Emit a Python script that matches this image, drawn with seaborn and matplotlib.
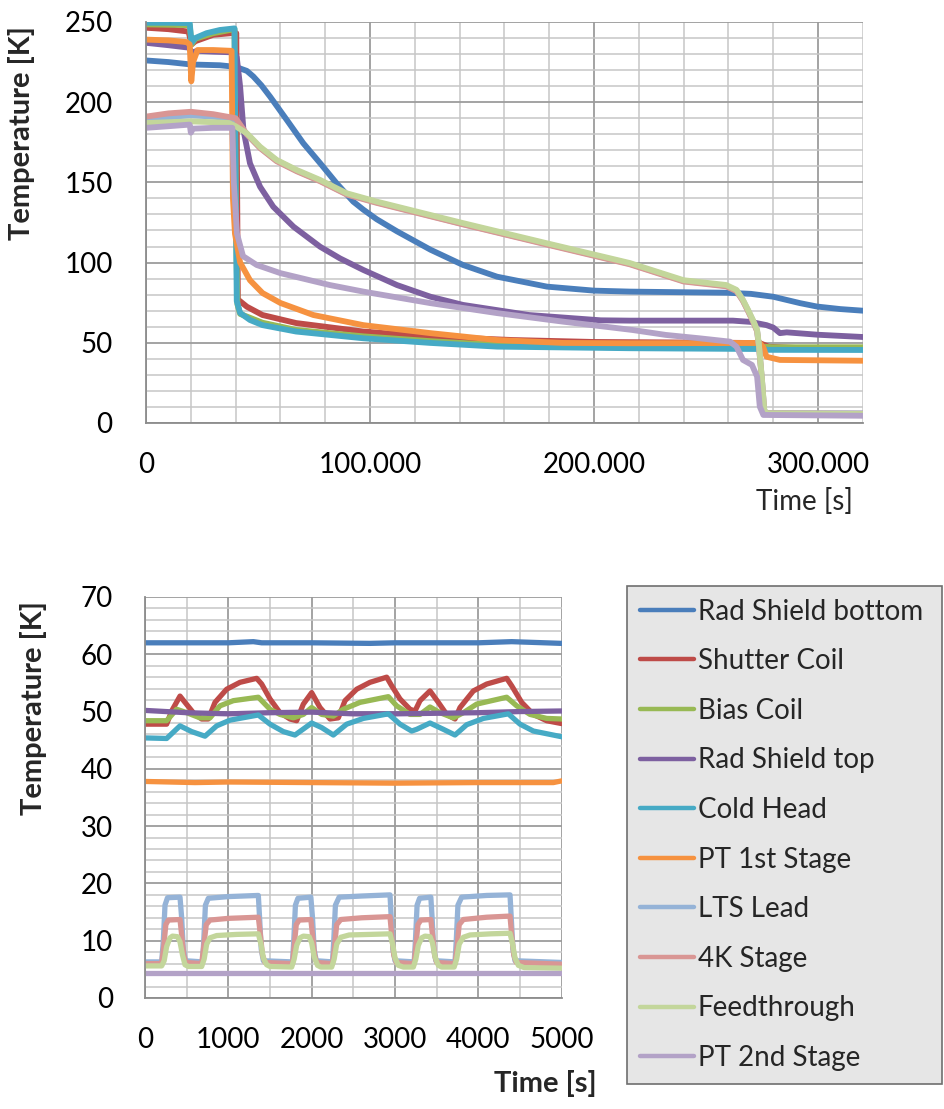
import pandas as pd
import matplotlib.pyplot as plt
import seaborn as sns
from matplotlib.lines import Line2D
from matplotlib.ticker import MultipleLocator, FuncFormatter

# sensor names and colours (Excel 2007 palette)
sensors = ['Rad Shield bottom', 'Shutter Coil', 'Bias Coil', 'Rad Shield top', 'Cold Head',
           'PT 1st Stage', 'LTS Lead', '4K Stage', 'Feedthrough', 'PT 2nd Stage']
colors = ['#4a7ebb', '#be4b48', '#98b954', '#7d60a0', '#46aac5',
          '#f69240', '#95b3d7', '#d99694', '#c3d69b', '#b3a2c7']

# ---- cool-down (top panel), (time s, temperature K)
rsb_cool = [(0, 226), (10000, 225), (20000, 223.5), (33000, 223), (40000, 222), (42000, 221),
            (45000, 219.5), (47900, 216), (51500, 210.5), (55400, 203.4), (62800, 189), (70200, 174.4),
            (77700, 162), (85100, 149.4), (92500, 138), (97000, 133), (103000, 127), (112000, 119.5),
            (127000, 108), (141500, 98.5), (156700, 91.2), (179000, 85), (200000, 82.5), (216000, 81.9),
            (240000, 81.5), (259000, 81.2), (270000, 80.5), (280000, 78.7), (292000, 74.7), (299500, 72.6),
            (310000, 71), (320000, 70)]
shutter_cool = [(0, 246.4), (10000, 245.5), (19000, 244), (20300, 236), (22000, 238), (30000, 242),
                (38000, 243), (40300, 243), (40600, 160), (41000, 77), (45000, 72.5), (52000, 67.3),
                (67000, 62.3), (97000, 57), (127000, 53.8), (164000, 51.7), (200000, 50.5), (260000, 50),
                (274000, 49.8), (278000, 47.5), (290000, 46.8), (320000, 46.8)]
bias_cool = [(0, 248.5), (19500, 248), (20300, 236), (22000, 239.5), (30000, 243), (39500, 245.5),
             (40200, 120), (40800, 74), (42000, 68), (52000, 62.5), (67000, 58), (97000, 54), (127000, 51),
             (156700, 48.6), (200000, 47.8), (260000, 47.6), (275000, 47.6), (280000, 47.2), (320000, 47.2)]
rst_cool = [(0, 237), (10000, 235.5), (19000, 234), (20500, 231), (23000, 232), (30000, 231.5),
            (39500, 231), (40500, 228), (42000, 209.7), (43500, 182.6), (46400, 161.9), (50900, 147.3),
            (56800, 134.8), (65800, 122.4), (77700, 109.9), (86600, 102.6), (97000, 95.4), (112000, 86),
            (127000, 78.7), (141500, 73.6), (171000, 67.3), (203000, 64), (216000, 63.8), (262000, 63.8),
            (270000, 63), (277000, 61), (280000, 59.5), (283000, 56), (286000, 56.5), (300000, 55),
            (320000, 53.6)]
cold_cool = [(0, 249.5), (10000, 249.5), (19500, 249.3), (20300, 237), (22000, 240), (27000, 243),
             (33000, 245), (39500, 246), (40000, 150), (40500, 76), (42000, 68.6), (46400, 64.2),
             (52000, 61), (67000, 57), (97000, 52.8), (127000, 49.9), (156700, 47.6), (216000, 46.6),
             (275000, 46.1), (278000, 45.6), (320000, 45.5)]
pt1_cool = [(0, 239), (10000, 238.5), (18000, 237.5), (19500, 236), (20200, 213), (21000, 225),
            (23000, 232.5), (30000, 232.5), (38200, 232), (38800, 140), (39700, 118), (42000, 100),
            (46400, 89), (52000, 81), (60000, 74.8), (74700, 67.3), (97000, 61), (127000, 56),
            (156700, 51.7), (186000, 49.9), (216000, 49.7), (274000, 49.9), (275600, 47), (277000, 41.3),
            (283000, 39.3), (320000, 38.8)]
lts_cool = [(0, 189), (20000, 192), (38000, 190), (40000, 189), (45000, 180), (50900, 171.6),
            (58300, 163.5), (67300, 157.2), (77700, 151), (89600, 142.7), (103000, 137.5), (141500, 124),
            (179000, 111.5), (216000, 99.2), (240000, 88.5), (259000, 85.5), (263600, 82.5), (266500, 76.3),
            (268800, 70), (271000, 63.5), (272800, 57.5), (273700, 47), (275000, 26.3), (276000, 7.8),
            (277000, 6.2), (320000, 6.0)]
k4_cool = [(0, 191), (10000, 193), (20000, 194), (30000, 192.5), (40000, 190), (45000, 180),
           (50900, 171.4), (58300, 163.2), (67300, 156.9), (77700, 150.7), (89600, 142.4), (103000, 137.2),
           (141500, 123.8), (179000, 111.2), (216000, 98.9), (240000, 88.2), (259000, 85.2), (263600, 82.2),
           (266500, 76), (268800, 69.6), (271000, 63.2), (272800, 57.2), (273700, 46.8), (275000, 26),
           (276000, 7.5), (277000, 6), (320000, 5.8)]
feed_cool = [(0, 187), (10000, 187.5), (20000, 188), (30000, 187.5), (37000, 187), (40000, 185),
             (45000, 180.6), (50900, 172.2), (58300, 164), (67300, 157.7), (77700, 151.5), (89600, 143.2),
             (103000, 138), (141500, 124.6), (179000, 112), (216000, 99.7), (240000, 89), (259000, 86),
             (263600, 83), (266500, 76.7), (268800, 70.4), (271000, 64), (272800, 58), (273700, 47.6),
             (275000, 26.8), (276000, 8.1), (277000, 6), (320000, 5.6)]
pt2_cool = [(0, 184), (10000, 185), (19500, 186), (20000, 181), (21000, 183.5), (30000, 184),
            (38500, 184), (39200, 150), (40600, 118), (43300, 104), (49400, 98.5), (60000, 93.4),
            (82000, 86), (97000, 81.9), (127000, 74.7), (156700, 68.5), (186000, 63.2), (217000, 58),
            (232000, 54.9), (247000, 52.8), (260700, 50.7), (263600, 47.6), (266500, 39.3), (270500, 36.2),
            (272800, 28.9), (274000, 10.2), (275600, 5), (320000, 4.5)]

# ---- cycling (bottom panel)
rsb_cyc = [(0, 62), (1000, 62), (1300, 62.2), (1400, 62), (2000, 62), (2700, 61.9), (3000, 62),
           (4000, 62), (4400, 62.2), (5000, 61.9)]
shutter_cyc = [(0, 47.8), (260, 47.8), (320, 50.1), (420, 52.7), (480, 51.6), (580, 49.8), (680, 48.7),
               (760, 48.7), (840, 51.6), (980, 53.9), (1140, 55.1), (1340, 55.8), (1400, 54.8), (1500, 52.2),
               (1620, 49.8), (1740, 48.7), (1820, 48.4), (1900, 51.3), (2000, 53.3), (2100, 50.7),
               (2220, 48.7), (2320, 48.9), (2400, 51.9), (2540, 53.9), (2700, 55.1), (2900, 56.0),
               (2960, 54.5), (3060, 52.2), (3180, 50.4), (3240, 50.1), (3300, 51.9), (3420, 53.6),
               (3520, 51.6), (3620, 49.5), (3720, 48.7), (3780, 50.7), (3940, 53.6), (4100, 54.8),
               (4340, 55.8), (4400, 54.5), (4520, 51.6), (4660, 49.5), (4820, 48.4), (5000, 47.9)]
bias_cyc = [(0, 48.4), (260, 48.4), (380, 50.4), (500, 49.8), (660, 48.9), (780, 48.9), (900, 51.0),
            (1060, 51.9), (1360, 52.5), (1500, 50.4), (1620, 49.5), (1780, 48.9), (1900, 49.5), (2000, 50.7),
            (2120, 49.5), (2260, 49.2), (2380, 50.4), (2580, 51.6), (2920, 52.6), (3020, 51.0), (3180, 49.5),
            (3300, 49.5), (3420, 50.8), (3540, 49.8), (3700, 48.9), (3820, 49.8), (3980, 51.3), (4340, 52.5),
            (4460, 51.0), (4620, 49.5), (4820, 48.8), (5000, 48.7)]
rst_cyc = [(0, 50.2), (500, 49.8), (1000, 49.6), (1500, 49.8), (2000, 49.9), (2500, 49.6), (3000, 49.6),
           (3500, 49.7), (4000, 49.8), (4500, 50.0), (5000, 50.1)]
cold_cyc = [(0, 45.4), (260, 45.3), (420, 47.5), (560, 46.5), (720, 45.7), (860, 47.5), (1020, 48.5),
            (1360, 49.4), (1500, 47.8), (1660, 46.5), (1800, 45.9), (2000, 48.0), (2120, 47.2), (2260, 45.9),
            (2420, 47.8), (2620, 48.8), (2920, 49.6), (3060, 47.8), (3200, 46.6), (3260, 46.9), (3420, 48.0),
            (3580, 46.9), (3720, 45.9), (3860, 47.7), (4060, 48.8), (4360, 49.6), (4500, 47.8), (4660, 46.6),
            (5000, 45.6)]
pt1_cyc = [(0, 37.8), (600, 37.6), (1000, 37.7), (2000, 37.6), (3000, 37.5), (4000, 37.6), (4900, 37.6),
           (5000, 37.9)]
lts_cyc = [(0, 6.3), (200, 6.3), (220, 10.0), (240, 16.2), (270, 17.5), (420, 17.6), (440, 14.0),
           (460, 8.5), (485, 6.5), (690, 6.3), (705, 10.0), (725, 16.2), (760, 17.4), (1000, 17.7),
           (1360, 17.9), (1375, 14.0), (1395, 8.5), (1420, 6.5), (1770, 6.3), (1785, 10.0), (1805, 16.2),
           (1835, 17.4), (1990, 17.6), (2010, 14.0), (2030, 8.5), (2055, 6.5), (2250, 6.3), (2265, 10.0),
           (2285, 16.2), (2330, 17.6), (2600, 17.8), (2940, 18.0), (2955, 14.0), (2975, 8.5), (3000, 6.5),
           (3230, 6.3), (3245, 10.0), (3265, 16.2), (3295, 17.4), (3430, 17.6), (3445, 14.0), (3465, 8.5),
           (3490, 6.5), (3720, 6.3), (3735, 10.0), (3755, 16.2), (3800, 17.6), (4100, 17.9), (4380, 18.0),
           (4395, 14.0), (4415, 8.5), (4440, 6.5), (5000, 6.2)]
k4_cyc = [(0, 6.0), (200, 6.0), (225, 9.0), (250, 12.8), (280, 13.6), (420, 13.7), (440, 11.0),
          (465, 7.5), (490, 6.2), (680, 6.0), (705, 9.0), (735, 12.8), (780, 13.6), (1000, 13.9),
          (1360, 14.1), (1385, 11.0), (1410, 7.5), (1440, 6.2), (1770, 6.0), (1790, 9.0), (1815, 12.8),
          (1850, 13.6), (1990, 13.7), (2010, 11.0), (2035, 7.5), (2060, 6.2), (2250, 6.0), (2275, 9.0),
          (2300, 12.8), (2350, 13.7), (2600, 14.0), (2940, 14.2), (2960, 11.0), (2985, 7.5), (3015, 6.2),
          (3230, 6.0), (3250, 9.0), (3275, 12.8), (3310, 13.6), (3430, 13.7), (3450, 11.0), (3475, 7.5),
          (3500, 6.2), (3720, 6.0), (3745, 9.0), (3770, 12.8), (3820, 13.7), (4100, 14.1), (4380, 14.3),
          (4400, 11.0), (4425, 7.5), (4455, 6.2), (5000, 5.9)]
feed_cyc = [(0, 5.6), (200, 5.6), (230, 6.5), (260, 9.0), (300, 10.5), (330, 10.8), (390, 10.7),
            (420, 9.8), (450, 7.5), (480, 5.8), (520, 5.5), (680, 5.5), (710, 6.8), (740, 9.4), (780, 10.5),
            (860, 10.9), (1100, 11.1), (1360, 11.2), (1390, 9.5), (1420, 7.0), (1460, 5.8), (1500, 5.5),
            (1760, 5.4), (1790, 6.8), (1820, 9.2), (1860, 10.5), (1900, 10.8), (1970, 10.7), (2000, 9.6),
            (2030, 7.2), (2070, 5.7), (2110, 5.4), (2240, 5.4), (2270, 6.8), (2300, 9.4), (2350, 10.6),
            (2450, 11.0), (2700, 11.1), (2940, 11.2), (2970, 9.5), (3000, 7.0), (3040, 5.7), (3100, 5.4),
            (3220, 5.4), (3250, 6.8), (3280, 9.2), (3320, 10.5), (3360, 10.8), (3420, 10.7), (3450, 9.6),
            (3480, 7.2), (3520, 5.7), (3560, 5.4), (3710, 5.4), (3740, 6.8), (3770, 9.4), (3820, 10.6),
            (3900, 11.0), (4150, 11.2), (4380, 11.3), (4410, 9.5), (4440, 7.0), (4480, 5.7), (4550, 5.3),
            (5000, 5.2)]
pt2_cyc = [(0, 4.3), (1000, 4.3), (2000, 4.3), (3000, 4.3), (4000, 4.3), (5000, 4.3)]

cool_series = [rsb_cool, shutter_cool, bias_cool, rst_cool, cold_cool,
               pt1_cool, lts_cool, k4_cool, feed_cool, pt2_cool]
cyc_series = [rsb_cyc, shutter_cyc, bias_cyc, rst_cyc, cold_cyc,
              pt1_cyc, lts_cyc, k4_cyc, feed_cyc, pt2_cyc]


def to_frame(series_list):
    frames = []
    for name, pts in zip(sensors, series_list):
        d = pd.DataFrame(pts, columns=['time', 'temp'])
        d['sensor'] = name
        frames.append(d)
    return pd.concat(frames, ignore_index=True)


cool_df = to_frame(cool_series)
cyc_df = to_frame(cyc_series)
palette = dict(zip(sensors, colors))

sns.set_style('white')
plt.rcParams['font.family'] = ['Lato', 'DejaVu Sans']

fig = plt.figure(figsize=(9.44, 11.09), dpi=100)
ax1 = fig.add_axes([0.1547, 0.6186, 0.7593, 0.3616])
ax2 = fig.add_axes([0.1536, 0.1001, 0.4414, 0.3616])

sns.lineplot(data=cool_df, x='time', y='temp', hue='sensor', hue_order=sensors, palette=palette,
             estimator=None, sort=False, linewidth=4.2, legend=False, ax=ax1)
sns.lineplot(data=cyc_df, x='time', y='temp', hue='sensor', hue_order=sensors, palette=palette,
             estimator=None, sort=False, linewidth=3.8, legend=False, ax=ax2)

dot_thousands = FuncFormatter(lambda v, p: f"{int(round(v)):,}".replace(',', '.'))


def style_axis(ax, xmax, xmaj, xmin, ymax, ymaj, ymin, xpad, ypad):
    ax.set_xlim(0, xmax)
    ax.set_ylim(0, ymax)
    ax.xaxis.set_major_locator(MultipleLocator(xmaj))
    ax.xaxis.set_minor_locator(MultipleLocator(xmin))
    ax.yaxis.set_major_locator(MultipleLocator(ymaj))
    ax.yaxis.set_minor_locator(MultipleLocator(ymin))
    ax.set_axisbelow(True)
    ax.grid(which='major', color='#9c9c9c', linewidth=1.3)
    ax.grid(which='minor', color='#c6c6c6', linewidth=1.1)
    for side in ['top', 'right']:
        ax.spines[side].set_visible(False)
    for side in ['left', 'bottom']:
        ax.spines[side].set_color('#8c8c8c')
        ax.spines[side].set_linewidth(1.3)
    ax.tick_params(which='major', direction='out', length=9, width=1.2, color='#8c8c8c',
                   labelsize=20, labelcolor='black')
    ax.tick_params(axis='x', which='major', pad=xpad)
    ax.tick_params(axis='y', which='major', pad=ypad)
    ax.tick_params(which='minor', length=0)


style_axis(ax1, 320000, 100000, 20000, 250, 50, 10, 12, 15)
ax1.xaxis.set_major_formatter(dot_thousands)
style_axis(ax2, 5000, 1000, 500, 70, 10, 2, 12, 14)

ax1.set_xlabel('Time [s]', fontsize=20)
ax1.xaxis.set_label_coords(0.919, -0.162)
ax1.set_ylabel('Temperature [K]', fontsize=21, fontweight='bold')
ax1.yaxis.set_label_coords(-0.155, 0.723)

ax2.set_xlabel('Time [s]', fontsize=21, fontweight='bold')
ax2.xaxis.set_label_coords(0.96, -0.18)
ax2.set_ylabel('Temperature [K]', fontsize=21, fontweight='bold')
ax2.yaxis.set_label_coords(-0.235, 0.723)

handles = [Line2D([0], [0], color=c, linewidth=3.2) for c in colors]
leg = fig.legend(handles, sensors, loc='upper left',
                 bbox_to_anchor=(627 / 944, 29 / 1109, 315 / 944, 494 / 1109), mode='expand',
                 borderaxespad=0, fontsize=20, labelspacing=0.85, handlelength=1.95,
                 handletextpad=0.15, borderpad=0.45, fancybox=False, framealpha=1)
leg.get_frame().set_facecolor('#e6e6e6')
leg.get_frame().set_edgecolor('#6e6e6e')
leg.get_frame().set_linewidth(1.2)

fig.savefig('out.png', dpi=100)
